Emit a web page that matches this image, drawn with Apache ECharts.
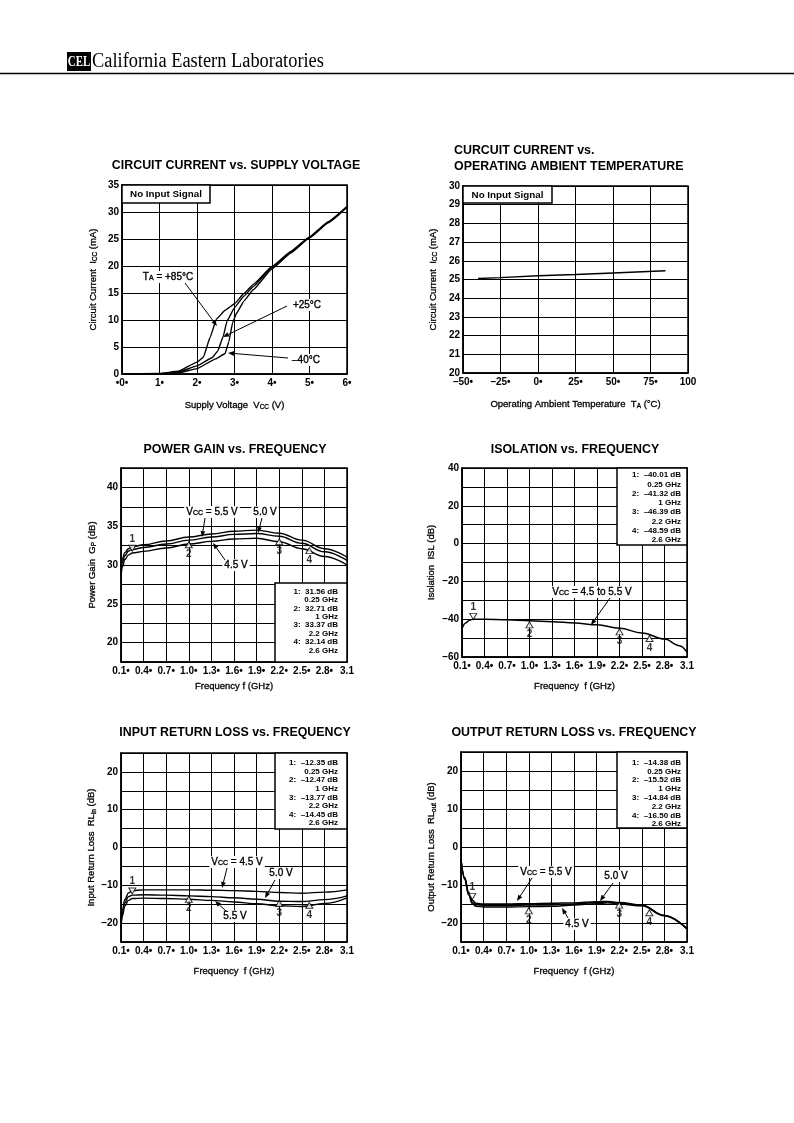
<!DOCTYPE html>
<html><head><meta charset="utf-8">
<script src="https://cdn.jsdelivr.net/npm/echarts@6/dist/echarts.min.js"></script>
<style>html,body{margin:0;padding:0;background:#fff}#c{width:794px;height:1123px}</style>
</head><body><div id="c"></div>
<script>
// ---------- DATA ----------
// Chart 1: Circuit current vs supply voltage
const vcc85 = [0, 1, 1.5, 2.0, 2.17, 2.35, 2.52, 2.75, 3.0, 3.25, 3.5, 4.0, 4.5, 5.0, 5.5, 6.0];
const icc85 = [0, 0.1, 0.5, 2.2, 3.1, 6.8, 10.2, 11.8, 13.0, 14.9, 16.6, 19.9, 22.7, 25.4, 28.2, 31.0];
const vcc25 = [0, 1, 1.5, 2.0, 2.4, 2.55, 2.7, 2.8, 3.0, 3.25, 3.5, 4.0, 4.5, 5.0, 5.5, 6.0];
const icc25 = [0, 0.05, 0.35, 1.5, 3.0, 4.2, 7.0, 9.8, 12.3, 14.4, 16.2, 19.7, 22.6, 25.3, 28.1, 31.0];
const vccM40 = [0, 1, 1.5, 2.0, 2.5, 2.75, 2.85, 2.95, 3.05, 3.25, 3.5, 4.0, 4.5, 5.0, 5.5, 6.0];
const iccM40 = [0, 0.03, 0.2, 1.0, 2.8, 3.8, 6.0, 9.5, 11.2, 13.5, 15.6, 19.5, 22.4, 25.2, 28.0, 30.9];
// Chart 2: Circuit current vs temperature
const tempC = [-40, -25, 0, 25, 50, 85];
const iccTemp = [25.05, 25.1, 25.2, 25.27, 25.35, 25.47];
// Chart 3: Power gain vs frequency
const gpFreq = [0.1, 0.12, 0.15, 0.2, 0.25, 0.4, 0.7, 1.0, 1.3, 1.6, 1.9, 2.2, 2.5, 2.8, 3.1];
const gp55 = [29.8, 30.8, 31.6, 32.1, 32.35, 32.6, 33.1, 33.6, 34.0, 34.35, 34.5, 34.1, 33.2, 32.1, 31.0];
const gp50 = [29.3, 30.4, 31.2, 31.8, 32.0, 32.25, 32.7, 33.2, 33.6, 33.95, 34.05, 33.7, 32.8, 31.7, 30.6];
const gp45 = [28.6, 29.8, 30.7, 31.3, 31.55, 31.75, 32.2, 32.7, 33.05, 33.35, 33.45, 33.0, 32.1, 31.1, 30.0];
const markerFreq = [0.25, 1.0, 2.2, 2.6];
const markerNames = ['1', '2', '3', '4'];
const gpMarkers = [32.15, 32.6, 33.0, 31.85];
const gpLegend = ['1:  31.56 dB', '0.25 GHz', '2:  32.71 dB', '1 GHz', '3:  33.37 dB', '2.2 GHz', '4:  32.14 dB', '2.6 GHz'];
// Chart 4: Isolation vs frequency
const isoFreq = [0.1, 0.15, 0.2, 0.25, 0.4, 0.7, 1.0, 1.3, 1.6, 1.9, 2.2, 2.5, 2.8, 3.0, 3.1];
const iso = [-45, -42, -40.5, -40, -40, -40.3, -40.8, -41.3, -42, -43, -44.8, -47.3, -50.5, -54, -57.5];
const isoMarkers = [-38.5, -43.0, -46.7, -50.2];
const isoLegend = ['1:  \u201340.01 dB', '0.25 GHz', '2:  \u201341.32 dB', '1 GHz', '3:  \u201346.39 dB', '2.2 GHz', '4:  \u201348.59 dB', '2.6 GHz'];
// Chart 5: Input return loss
const irlFreq = [0.1, 0.12, 0.15, 0.2, 0.25, 0.4, 0.7, 1.0, 1.3, 1.6, 1.9, 2.2, 2.5, 2.8, 3.1];
const irl45 = [-19.5, -16.5, -13.8, -12.0, -11.4, -11.2, -11.2, -11.2, -11.3, -11.4, -11.6, -11.9, -12.1, -11.8, -11.2];
const irl50 = [-20.0, -17.2, -14.6, -13.0, -12.6, -12.5, -12.6, -12.8, -13.0, -13.3, -13.7, -14.2, -14.3, -13.8, -12.8];
const irl55 = [-21.0, -18.0, -15.5, -14.0, -13.5, -13.4, -13.5, -13.7, -14.0, -14.4, -14.9, -15.4, -15.6, -14.8, -13.3];
const irlMarkers = [-11.5, -13.7, -14.8, -15.3];
const irlLegend = ['1:  \u201312.35 dB', '0.25 GHz', '2:  \u201312.47 dB', '1 GHz', '3:  \u201313.77 dB', '2.2 GHz', '4:  \u201314.45 dB', '2.6 GHz'];
// Chart 6: Output return loss
const orlFreq = [0.1, 0.15, 0.2, 0.25, 0.3, 0.4, 0.7, 1.0, 1.3, 1.6, 1.9, 2.05, 2.2, 2.5, 2.8, 3.1];
const orl55 = [-3.3, -8.0, -11.8, -14.0, -14.8, -15.0, -15.0, -14.9, -14.8, -14.7, -14.4, -14.3, -14.6, -15.3, -18.0, -21.5];
const orl50 = [-3.3, -8.3, -12.2, -14.5, -15.2, -15.4, -15.4, -15.3, -15.2, -15.0, -14.6, -14.5, -14.8, -15.4, -18.0, -21.5];
const orl45 = [-3.3, -8.6, -12.6, -14.9, -15.6, -15.8, -15.8, -15.7, -15.6, -15.3, -14.9, -14.7, -15.0, -15.5, -18.1, -21.6];
const orlMarkers = [-13.0, -16.8, -15.3, -17.3];
const orlLegend = ['1:  \u201314.38 dB', '0.25 GHz', '2:  \u201315.52 dB', '1 GHz', '3:  \u201314.84 dB', '2.2 GHz', '4:  \u201316.50 dB', '2.6 GHz'];

// ---------- HELPERS ----------
const FONT = '"Liberation Sans", Arial, sans-serif';
const zip = (xs, ys) => xs.map((x, i) => [x, ys[i]]);
const neg = v => String(v).replace('-', '\u2013');
const SUB = { s: { fontSize: 6.5, fontFamily: FONT, color: '#000', verticalAlign: 'bottom', padding: [0, 0, -1, 0] } };

function xAxis(gi, min, max, interval, fmt, name, gap) {
  return {
    type: 'value', gridIndex: gi, min, max, interval,
    axisLine: { show: true, onZero: false, lineStyle: { color: '#000', width: 1.5 } },
    axisTick: { show: false },
    splitLine: { show: true, lineStyle: { color: '#000', width: 1 } },
    axisLabel: { formatter: fmt, color: '#000', fontSize: 10, fontWeight: 'bold', fontFamily: FONT, margin: 4, showMinLabel: true, showMaxLabel: true, hideOverlap: false },
    name, nameLocation: 'middle', nameGap: gap,
    nameTextStyle: { fontSize: 9.5, fontFamily: FONT, color: '#000', textBorderColor: '#000', textBorderWidth: 0.3, rich: SUB }
  };
}
function yAxis(gi, min, max, interval, fmt, name, gap) {
  return {
    type: 'value', gridIndex: gi, min, max, interval,
    axisLine: { show: true, onZero: false, lineStyle: { color: '#000', width: 1.5 } },
    axisTick: { show: false },
    splitLine: { show: true, lineStyle: { color: '#000', width: 1 } },
    axisLabel: { formatter: fmt, color: '#000', fontSize: 10, fontWeight: 'bold', fontFamily: FONT, margin: 3, showMinLabel: true, showMaxLabel: true, hideOverlap: false },
    name, nameLocation: 'middle', nameRotate: 90, nameGap: gap,
    nameTextStyle: { fontSize: 9.5, fontFamily: FONT, color: '#000', textBorderColor: '#000', textBorderWidth: 0.3, rich: SUB }
  };
}
const fmtFreq = v => { const s = (Math.round(v * 10) / 10).toFixed(1); return Math.abs(v - 3.1) < 1e-6 ? s : s + '\u2022'; };
function line(gi, data, width, smooth) {
  return { type: 'line', xAxisIndex: gi, yAxisIndex: gi, data, symbol: 'none', smooth: smooth, smoothMonotone: 'x',
    lineStyle: { color: '#000', width: width || 1.4 }, z: 3, silent: true, animation: false };
}
function markers(gi, vals) {
  return {
    type: 'scatter', xAxisIndex: gi, yAxisIndex: gi, symbol: 'triangle', symbolSize: [7, 6], animation: false, z: 5,
    itemStyle: { color: '#fff', borderColor: '#000', borderWidth: 1 },
    label: { show: true, formatter: '{b}', color: '#000', fontSize: 10, fontWeight: 'bold', fontFamily: FONT, distance: 1 },
    data: markerFreq.map((f, i) => i === 0
      ? { name: markerNames[i], value: [f, vals[i]], symbolRotate: 180, label: { position: 'top' } }
      : { name: markerNames[i], value: [f, vals[i]], label: { position: 'bottom' } })
  };
}

// ---------- GRAPHICS (annotations) ----------
const G = [];
function txt(text, x, y, opt) {
  opt = opt || {};
  const st = {
    text, font: (opt.weight || 'normal') + ' ' + (opt.size || 10) + 'px ' + FONT, fill: '#000',
    align: opt.align || 'center', verticalAlign: 'middle',
    rich: { s: { fontSize: 7, fontFamily: FONT, fill: '#000', verticalAlign: 'bottom' } }
  };
  if (opt.stroke) { st.stroke = '#000'; st.lineWidth = opt.stroke; }
  if (opt.bg) { st.backgroundColor = '#fff'; st.padding = [1, 2]; }
  G.push({ type: 'text', z: 100, x, y, style: st });
}
function arrow(x1, y1, x2, y2) {
  const a = Math.atan2(y2 - y1, x2 - x1), L = 6, W = 2.4;
  const bx = x2 - L * Math.cos(a), by = y2 - L * Math.sin(a);
  G.push({ type: 'line', z: 101, shape: { x1, y1, x2: bx, y2: by }, style: { stroke: '#000', lineWidth: 1 } });
  G.push({ type: 'polygon', z: 101, shape: { points: [[x2, y2], [bx - W * Math.sin(a), by + W * Math.cos(a)], [bx + W * Math.sin(a), by - W * Math.cos(a)]] }, style: { fill: '#000' } });
}
function box(x, y, w, h) {
  G.push({ type: 'rect', z: 99, shape: { x, y, width: w, height: h }, style: { fill: '#fff', stroke: '#000', lineWidth: 1.5 } });
}
function legendBox(x, y, w, h, lines, rightX, firstY, step) {
  box(x, y, w, h);
  lines.forEach((l, i) => txt(l, rightX, firstY + i * step, { size: 8, weight: 'bold', align: 'right' }));
}

// header
G.push({ type: 'rect', z: 100, shape: { x: 67, y: 52, width: 24, height: 19 }, style: { fill: '#000' } });
G.push({ type: 'text', z: 101, x: 79, y: 62, scaleX: 0.78, style: { text: 'CEL', font: 'bold 14px "Liberation Serif", serif', fill: '#fff', align: 'center', verticalAlign: 'middle' } });
G.push({ type: 'text', z: 101, x: 92, y: 62, scaleX: 0.92, style: { text: 'California Eastern Laboratories', font: 'normal 20px "Liberation Serif", serif', fill: '#000', align: 'left', verticalAlign: 'middle' } });
G.push({ type: 'line', z: 100, shape: { x1: 0, y1: 73.5, x2: 794, y2: 73.5 }, style: { stroke: '#000', lineWidth: 1.5 } });

// titles
const TS = { size: 12.4, weight: 'bold' };
txt('CIRCUIT CURRENT vs. SUPPLY VOLTAGE', 236, 166, TS);
txt('CURCUIT CURRENT vs.', 454, 151, Object.assign({ align: 'left' }, TS));
txt('OPERATING AMBIENT TEMPERATURE', 454, 167, Object.assign({ align: 'left' }, TS));
txt('POWER GAIN vs. FREQUENCY', 235, 450, TS);
txt('ISOLATION vs. FREQUENCY', 575, 450, TS);
txt('INPUT RETURN LOSS vs. FREQUENCY', 235, 733, TS);
txt('OUTPUT RETURN LOSS vs. FREQUENCY', 574, 733, TS);

// No input signal boxes
box(122, 185, 88, 18); txt('No Input Signal', 166, 194.5, { size: 9.8, weight: 'bold' });
box(463, 186, 89, 17); txt('No Input Signal', 507.5, 195, { size: 9.8, weight: 'bold' });

// annotation style
const AS = { size: 10, bg: true, stroke: 0.35 };
// chart 1 annotations
txt('T{s|A} = +85\u00b0C', 168, 277, AS); arrow(185, 283, 217, 326);
txt('+25\u00b0C', 307, 305, AS); arrow(287, 306, 223, 337);
txt('\u201340\u00b0C', 306, 360, AS); arrow(288, 358, 228, 353);
// chart 3
txt('V{s|CC} = 5.5 V', 212, 512, AS); arrow(205, 518, 202, 537);
txt('5.0 V', 265, 512, AS); arrow(262, 518, 258, 533);
txt('4.5 V', 236, 565, AS); arrow(225, 560, 213, 543);
legendBox(275, 583, 72, 79, gpLegend, 338, 591.5, 8.4);
// chart 4
txt('V{s|CC} = 4.5 to 5.5 V', 592, 592, AS); arrow(610, 598, 591, 625);
legendBox(617, 468, 70, 77, isoLegend, 681, 475, 9.3);
// chart 5
txt('V{s|CC} = 4.5 V', 237, 862, AS); arrow(227, 868, 222, 888);
txt('5.0 V', 281, 873, AS); arrow(275, 880, 265, 898);
txt('5.5 V', 235, 916, AS); arrow(226, 911, 215, 901);
legendBox(275, 753, 72, 76, irlLegend, 338, 763, 8.6);
// chart 6
txt('V{s|CC} = 5.5 V', 546, 872, AS); arrow(532, 878, 517, 901);
txt('5.0 V', 616, 876, AS); arrow(613, 883, 600, 901);
txt('4.5 V', 577, 924, AS); arrow(568, 918, 562, 908);
legendBox(617, 752, 70, 76, orlLegend, 681, 762.5, 8.8);

// ---------- OPTION ----------
const gridStyle = { show: true, borderColor: '#000', borderWidth: 1.5, backgroundColor: '#fff', containLabel: false };
const option = {
  backgroundColor: '#fff',
  animation: false,
  grid: [
    Object.assign({ left: 122, top: 185, width: 225, height: 189 }, gridStyle),
    Object.assign({ left: 463, top: 186, width: 225, height: 187 }, gridStyle),
    Object.assign({ left: 121, top: 468, width: 226, height: 194 }, gridStyle),
    Object.assign({ left: 462, top: 468, width: 225, height: 189 }, gridStyle),
    Object.assign({ left: 121, top: 753, width: 226, height: 189 }, gridStyle),
    Object.assign({ left: 461, top: 752, width: 226, height: 190 }, gridStyle)
  ],
  xAxis: [
    xAxis(0, 0, 6, 1, v => v === 0 ? '\u20220\u2022' : v + '\u2022', 'Supply Voltage  V{s|CC} (V)', 26),
    xAxis(1, -50, 100, 25, v => v === 100 ? '100' : neg(v) + '\u2022', 'Operating Ambient Temperature  T{s|A} (\u00b0C)', 26),
    xAxis(2, 0.1, 3.1, 0.3, fmtFreq, 'Frequency f (GHz)', 19),
    xAxis(3, 0.1, 3.1, 0.3, fmtFreq, 'Frequency  f (GHz)', 24),
    xAxis(4, 0.1, 3.1, 0.3, fmtFreq, 'Frequency  f (GHz)', 24),
    xAxis(5, 0.1, 3.1, 0.3, fmtFreq, 'Frequency  f (GHz)', 24)
  ],
  yAxis: [
    yAxis(0, 0, 35, 5, v => v, 'Circuit Current  I{s|CC} (mA)', 24),
    yAxis(1, 20, 30, 1, v => v, 'Circuit Current  I{s|CC} (mA)', 25),
    yAxis(2, 17.5, 42.5, 2.5, v => v % 5 === 0 ? v : '', 'Power Gain  G{s|P} (dB)', 24),
    yAxis(3, -60, 40, 10, v => v % 20 === 0 ? neg(v) : '', 'Isolation  ISL (dB)', 26),
    yAxis(4, -25, 25, 5, v => v % 10 === 0 ? neg(v) : '', 'Input Return Loss  RL{s|in} (dB)', 19),
    yAxis(5, -25, 25, 5, v => v % 10 === 0 ? neg(v) : '', 'Output Return Loss  RL{s|out} (dB)', 19)
  ],
  series: [
    line(0, zip(vcc85, icc85), 1.4, 0.1),
    line(0, zip(vcc25, icc25), 1.4, 0.1),
    line(0, zip(vccM40, iccM40), 1.4, 0.1),
    line(1, zip(tempC, iccTemp), 1.4, false),
    line(2, zip(gpFreq, gp55), 1.4, 0.4),
    line(2, zip(gpFreq, gp50), 1.4, 0.4),
    line(2, zip(gpFreq, gp45), 1.4, 0.4),
    markers(2, gpMarkers),
    line(3, zip(isoFreq, iso), 1.5, 0.4),
    markers(3, isoMarkers),
    line(4, zip(irlFreq, irl45), 1.4, 0.4),
    line(4, zip(irlFreq, irl50), 1.4, 0.4),
    line(4, zip(irlFreq, irl55), 1.4, 0.4),
    markers(4, irlMarkers),
    line(5, zip(orlFreq, orl55), 1.4, 0.4),
    line(5, zip(orlFreq, orl50), 1.4, 0.4),
    line(5, zip(orlFreq, orl45), 1.4, 0.4),
    markers(5, orlMarkers)
  ],
  graphic: G
};
const chart = echarts.init(document.getElementById('c'), null, { renderer: 'canvas' });
chart.setOption(option);
</script></body></html>
